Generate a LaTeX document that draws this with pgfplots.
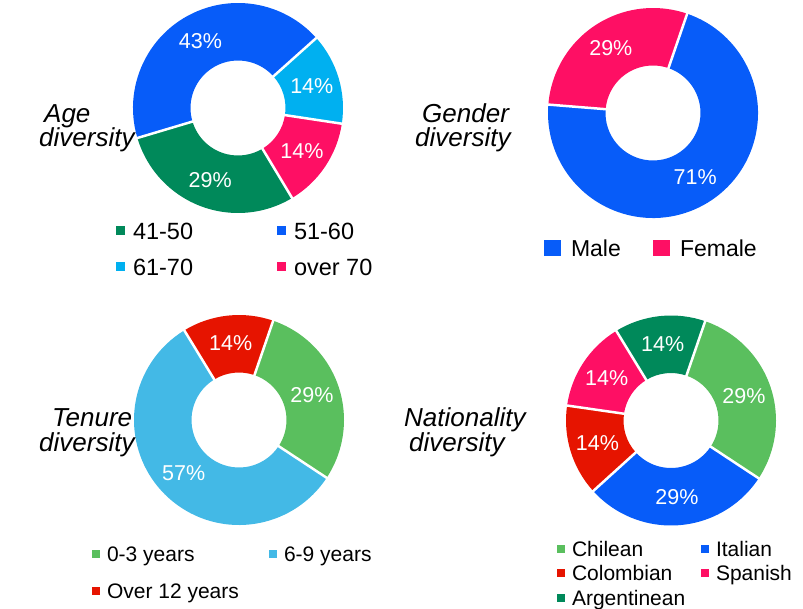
\documentclass[border=0pt]{standalone}
\usepackage{pgfplots}
\pgfplotsset{compat=1.18}
\usepackage{fontspec}
\setmainfont{Liberation Sans}

\definecolor{agegreen}{HTML}{00895A}
\definecolor{ageblue}{HTML}{075CF9}
\definecolor{agecyan}{HTML}{00B0F0}
\definecolor{agepink}{HTML}{FE0F64}
\definecolor{lgreen}{HTML}{5ABF5E}
\definecolor{lblue}{HTML}{43B9E6}
\definecolor{tred}{HTML}{E61400}

\newcommand\pctfont{\fontsize{21.5bp}{25bp}\selectfont}
\newcommand\titlefont{\fontsize{26bp}{31bp}\selectfont\itshape}

% #1 start angle (degrees), #2 list value/colour, drawn clockwise
\newcommand{\donut}[2]{%
  \xdef\curang{#1}%
  \foreach \v/\c in {#2} {%
    \pgfmathsetmacro\nxt{\curang-3.6*\v}%
    \pgfmathsetmacro\midang{(\curang+\nxt)/2}%
    \pgfmathsetmacro\xa{105*cos(\curang)}%
    \pgfmathsetmacro\ya{105*sin(\curang)}%
    \pgfmathsetmacro\xb{47.5*cos(\nxt)}%
    \pgfmathsetmacro\yb{47.5*sin(\nxt)}%
    \pgfmathsetmacro\xl{77*cos(\midang)}%
    \pgfmathsetmacro\yl{77*sin(\midang)}%
    \edef\doit{\noexpand\fill[\c] (axis cs:\xa,\ya) arc[start angle=\curang, end angle=\nxt, radius=105bp]
      -- (axis cs:\xb,\yb) arc[start angle=\nxt, end angle=\curang, radius=47.5bp] -- cycle;
      \noexpand\node[text=white, font=\noexpand\pctfont] at (axis cs:\xl,\yl) {\v\noexpand\%};}%
    \doit
    \xdef\curang{\nxt}%
  }%
  \xdef\curang{#1}%
  \foreach \v/\c in {#2} {%
    \pgfmathsetmacro\nxt{\curang-3.6*\v}%
    \pgfmathsetmacro\xa{45*cos(\nxt)}%
    \pgfmathsetmacro\ya{45*sin(\nxt)}%
    \pgfmathsetmacro\xb{108*cos(\nxt)}%
    \pgfmathsetmacro\yb{108*sin(\nxt)}%
    \edef\doit{\noexpand\draw[white, line width=2.5bp] (axis cs:\xa,\ya) -- (axis cs:\xb,\yb);}%
    \doit
    \xdef\curang{\nxt}%
  }%
}

\pgfplotsset{donut/.style={x=1bp, y=1bp, xmin=-120, xmax=120, ymin=-120, ymax=120,
  hide axis, clip=false, anchor=center, legend cell align=left, legend columns=2}}

\begin{document}
\begin{tikzpicture}
\useasboundingbox (0,0) rectangle (803bp,-609bp);

% ---------------- Age
\begin{axis}[donut, at={(238bp,-108bp)},
  legend style={at={(axis description cs:-0.0083,0.0233)}, anchor=north west,
    draw=none, fill=none, inner sep=0pt, outer sep=0pt, row sep=19bp,
    font=\fontsize{23.5bp}{28bp}\selectfont,
    nodes={inner sep=0pt, text height=17bp, text depth=0bp},
    /tikz/every odd column/.append style={column sep=8bp}},
  legend image code/.code={\fill[#1, draw=none] (0bp,-4.5bp) rectangle (9bp,4.5bp);}]
\addlegendimage{fill=agegreen}\addlegendentry{\makebox[144bp][l]{41-50}}
\addlegendimage{fill=ageblue}\addlegendentry{\makebox[100bp][l]{51-60}}
\addlegendimage{fill=agecyan}\addlegendentry{\makebox[144bp][l]{61-70}}
\addlegendimage{fill=agepink}\addlegendentry{\makebox[100bp][l]{over 70}}
\donut{-59}{29/agegreen,43/ageblue,14/agecyan,14/agepink}
\end{axis}

% ---------------- Gender
\begin{axis}[donut, at={(653bp,-113bp)},
  legend style={at={(axis description cs:0.0458,-0.0258)}, anchor=north west,
    draw=none, fill=none, inner sep=0pt, outer sep=0pt,
    font=\fontsize{23bp}{28bp}\selectfont,
    nodes={inner sep=0pt, text height=17bp, text depth=0bp},
    /tikz/every odd column/.append style={column sep=10bp}},
  legend image code/.code={\fill[#1, draw=none] (0bp,-8bp) rectangle (17bp,8bp);}]
\addlegendimage{fill=ageblue}\addlegendentry{\makebox[82bp][l]{Male}}
\addlegendimage{fill=agepink}\addlegendentry{\makebox[82bp][l]{Female}}
\donut{71}{71/ageblue,29/agepink}
\end{axis}

% ---------------- Tenure
\begin{axis}[donut, at={(239bp,-420bp)},
  legend style={at={(axis description cs:-0.1125,-0.025)}, anchor=north west,
    draw=none, fill=none, inner sep=0pt, outer sep=0pt, row sep=21.5bp,
    font=\fontsize{21bp}{25bp}\selectfont,
    nodes={inner sep=0pt, text height=15.5bp, text depth=0bp},
    /tikz/every odd column/.append style={column sep=7bp}},
  legend image code/.code={\fill[#1, draw=none] (0bp,-4bp) rectangle (8bp,4bp);}]
\addlegendimage{fill=lgreen}\addlegendentry{\makebox[162bp][l]{0-3 years}}
\addlegendimage{fill=lblue}\addlegendentry{\makebox[120bp][l]{6-9 years}}
\addlegendimage{fill=tred}\addlegendentry{\makebox[162bp][l]{Over 12 years}}
\donut{71}{29/lgreen,57/lblue,14/tred}
\end{axis}

% ---------------- Nationality
\begin{axis}[donut, at={(671bp,-420.5bp)},
  legend style={at={(axis description cs:0.025,-0.002)}, anchor=north west,
    draw=none, fill=none, inner sep=0pt, outer sep=0pt, row sep=9bp,
    font=\fontsize{21bp}{25bp}\selectfont,
    nodes={inner sep=0pt, text height=15.5bp, text depth=0bp},
    /tikz/every odd column/.append style={column sep=7bp}},
  legend image code/.code={\fill[#1, draw=none] (0bp,-4bp) rectangle (8bp,4bp);}]
\addlegendimage{fill=lgreen}\addlegendentry{\makebox[129bp][l]{Chilean}}
\addlegendimage{fill=ageblue}\addlegendentry{\makebox[80bp][l]{Italian}}
\addlegendimage{fill=tred}\addlegendentry{\makebox[129bp][l]{Colombian}}
\addlegendimage{fill=agepink}\addlegendentry{\makebox[80bp][l]{Spanish}}
\addlegendimage{fill=agegreen}\addlegendentry{\makebox[129bp][l]{Argentinean}}
\donut{71}{29/lgreen,29/ageblue,14/tred,14/agepink,14/agegreen}
\end{axis}

% ---------------- titles
\node[anchor=base west, font=\titlefont, inner sep=0pt] at (44bp,-122bp) {Age};
\node[anchor=base west, font=\titlefont, inner sep=0pt] at (39bp,-146bp) {diversity};
\node[anchor=base west, font=\titlefont, inner sep=0pt] at (422bp,-122bp) {Gender};
\node[anchor=base west, font=\titlefont, inner sep=0pt] at (415bp,-146bp) {diversity};
\node[anchor=base west, font=\titlefont, inner sep=0pt] at (52bp,-426bp) {Tenure};
\node[anchor=base west, font=\titlefont, inner sep=0pt] at (39bp,-451bp) {diversity};
\node[anchor=base west, font=\titlefont, inner sep=0pt] at (404bp,-426bp) {Nationality};
\node[anchor=base west, font=\titlefont, inner sep=0pt] at (409bp,-451bp) {diversity};
\end{tikzpicture}
\end{document}
